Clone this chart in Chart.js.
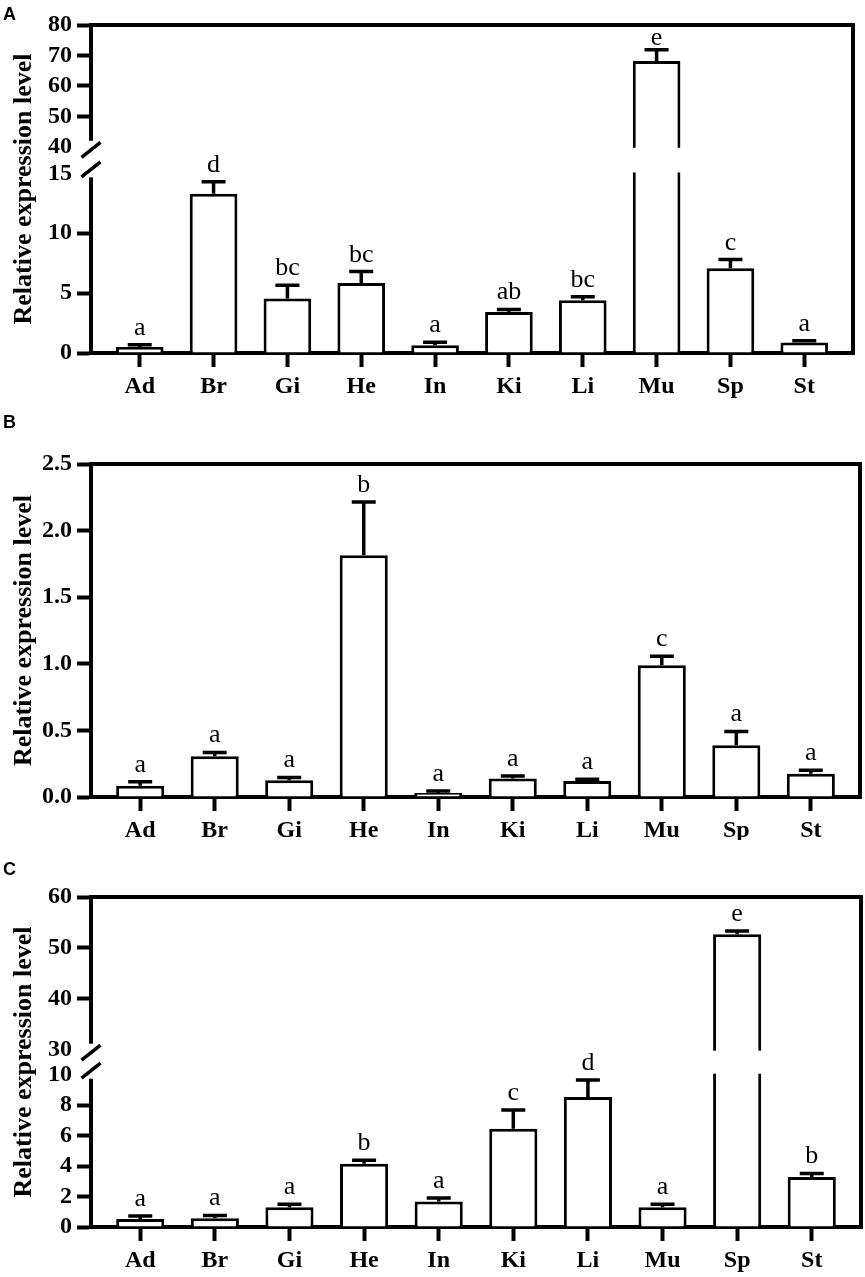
<!DOCTYPE html>
<html lang="en">
<head>
  <meta charset="UTF-8" />
  <title>Relative expression level by tissue</title>
  <script src="https://cdn.jsdelivr.net/npm/chart.js@4.4.1/dist/chart.umd.min.js"></script>
  <style>
    body {
      margin: 0;
      background: #fff;
    }

    .page {
      position: relative;
      width: 865px;
      height: 1277px;
      overflow: hidden;
      background: #fff;
    }

    .panel {
      position: absolute;
      left: 0;
    }

    .tag {
      position: absolute;
      font-family: 'Liberation Sans', Arial, sans-serif;
      font-weight: 700;
      font-size: 18px;
      line-height: 1;
      color: #000;
    }
  </style>
</head>
<body>
  <div class="page">
    <canvas id="chartA" class="panel" style="top:0" width="865" height="400"></canvas>
    <canvas id="chartB" class="panel" style="top:400px" width="865" height="440"></canvas>
    <canvas id="chartC" class="panel" style="top:840px" width="865" height="437"></canvas>
    <div class="tag" style="left:3px;top:5px">A</div>
    <div class="tag" style="left:3px;top:413px">B</div>
    <div class="tag" style="left:3px;top:860px">C</div>
  </div>

  <script>
    const tissues = ['Ad', 'Br', 'Gi', 'He', 'In', 'Ki', 'Li', 'Mu', 'Sp', 'St'];

    // Panel A
    const meanA = [0.5, 13.3, 4.55, 5.85, 0.65, 3.42, 4.4, 68.2, 7.08, 0.87];
    const errA  = [0.18, 1.0, 1.1, 0.95, 0.25, 0.22, 0.3, 3.7, 0.72, 0.15];
    const sigA  = ['a', 'd', 'bc', 'bc', 'a', 'ab', 'bc', 'e', 'c', 'a'];
    const ticksA = [0, 5, 10, 15, 40, 50, 60, 70, 80];

    // Panel B
    const meanB = [0.085, 0.305, 0.125, 1.815, 0.03, 0.138, 0.12, 0.99, 0.388, 0.175];
    const errB  = [0.03, 0.03, 0.022, 0.4, 0.015, 0.02, 0.014, 0.066, 0.104, 0.025];
    const sigB  = ['a', 'a', 'a', 'b', 'a', 'a', 'a', 'c', 'a', 'a'];
    const ticksB = [0, 0.5, 1.0, 1.5, 2.0, 2.5];

    // Panel C
    const meanC = [0.53, 0.58, 1.29, 4.16, 1.68, 6.45, 8.53, 1.29, 52.7, 3.29];
    const errC  = [0.2, 0.18, 0.2, 0.23, 0.22, 1.23, 1.13, 0.2, 0.6, 0.23];
    const sigC  = ['a', 'a', 'a', 'b', 'a', 'c', 'd', 'a', 'e', 'b'];
    const ticksC = [0, 2, 4, 6, 8, 10, 30, 40, 50, 60];

    const serif = "'Liberation Serif', 'Times New Roman', serif";
    const tickFont = { family: serif, size: 24, weight: 'bold' };
    const titleFont = { family: serif, size: 26, weight: 'bold' };
    const AXIS_W = 4;

    // broken y axis settings, looked up by canvas id
    const breaks = {
      chartA: { ticks: ticksA, lowMax: 15, highMin: 40, max: 80, fLow: 0.5475, fGap: 0.0812 },
      chartC: { ticks: ticksC, lowMax: 10, highMin: 30, max: 60, fLow: 0.4615, fGap: 0.0758 }
    };

    class BrokenScale extends Chart.LinearScale {
      static id = 'broken';
      static defaults = Chart.LinearScale.defaults;

      buildTicks() {
        return breaks[this.chart.canvas.id].ticks.map(v => ({ value: v }));
      }

      getPixelForValue(v) {
        const b = breaks[this.chart.canvas.id];
        let d;
        if (v <= b.lowMax) d = v / b.lowMax * b.fLow;
        else if (v >= b.highMin) d = b.fLow + b.fGap + (v - b.highMin) / (b.max - b.highMin) * (1 - b.fLow - b.fGap);
        else d = b.fLow + (v - b.lowMax) / (b.highMin - b.lowMax) * b.fGap;
        return this.getPixelForDecimal(d);
      }

      getValueForPixel(p) {
        const b = breaks[this.chart.canvas.id];
        const d = this.getDecimalForPixel(p);
        if (d <= b.fLow) return d / b.fLow * b.lowMax;
        if (d >= b.fLow + b.fGap) return b.highMin + (d - b.fLow - b.fGap) / (1 - b.fLow - b.fGap) * (b.max - b.highMin);
        return b.lowMax + (d - b.fLow) / b.fGap * (b.highMin - b.lowMax);
      }
    }
    Chart.register(BrokenScale);

    // axis break, error bars, letters and the frame
    function makeDecor(mean, err, sig, brk) {
      return {
        id: 'decor',
        afterDatasetsDraw(chart) {
          const { ctx, chartArea: a } = chart;
          const y = chart.scales.y;
          const meta = chart.getDatasetMeta(0);
          ctx.save();
          ctx.strokeStyle = '#000';
          ctx.fillStyle = '#000';

          if (brk) {
            const yHi = y.getPixelForValue(brk.highMin);
            const yLo = y.getPixelForValue(brk.lowMax);
            ctx.fillStyle = '#fff';
            ctx.fillRect(a.left + 3, yHi + 1, a.right - a.left - 6, yLo - yHi - 2);
            ctx.fillRect(a.left - 3, yHi - 6, 6, yLo - yHi + 10);
            ctx.fillStyle = '#000';
            ctx.lineWidth = 3.5;
            ctx.beginPath();
            [yHi + 3, yLo - 4].forEach(c => {
              ctx.moveTo(a.left - 9.5, c + 7.5);
              ctx.lineTo(a.left + 9.5, c - 7.5);
            });
            ctx.stroke();
          }

          ctx.lineWidth = 3.5;
          ctx.font = '26px ' + serif;
          ctx.textAlign = 'center';
          ctx.textBaseline = 'alphabetic';
          meta.data.forEach((bar, i) => {
            const yBar = y.getPixelForValue(mean[i]);
            const yCap = y.getPixelForValue(mean[i] + err[i]);
            ctx.beginPath();
            ctx.moveTo(bar.x, yBar);
            ctx.lineTo(bar.x, yCap);
            ctx.moveTo(bar.x - 12, yCap);
            ctx.lineTo(bar.x + 12, yCap);
            ctx.stroke();
            // keep the letter inside the frame
            const ty = Math.max(yCap - 10, a.top + 20);
            ctx.fillText(sig[i], bar.x, ty);
          });
          ctx.restore();
        },
        afterDraw(chart) {
          const { ctx, chartArea: a } = chart;
          ctx.save();
          ctx.strokeStyle = '#000';
          ctx.lineWidth = AXIS_W;
          ctx.lineCap = 'square';
          ctx.beginPath();
          ctx.moveTo(a.left, a.top);
          ctx.lineTo(a.right, a.top);
          ctx.lineTo(a.right, a.bottom);
          ctx.stroke();
          ctx.restore();
        }
      };
    }

    function buildPanel(id, mean, err, sig, yOpts, box) {
      const brk = breaks[id] || null;
      const hidden = brk ? [brk.lowMax, brk.highMin] : [];
      const canvas = document.getElementById(id);

      return new Chart(canvas.getContext('2d'), {
        type: 'bar',
        data: {
          datasets: [{
            data: tissues.map((t, i) => ({ x: i, y: mean[i] })),
            backgroundColor: '#fff',
            borderColor: '#000',
            borderWidth: 3,
            barPercentage: 0.645,
            categoryPercentage: 1
          }]
        },
        options: {
          responsive: false,
          animation: false,
          events: [],
          layout: { padding: { top: box.top, right: box.right, left: 0, bottom: 0 } },
          plugins: { legend: { display: false }, tooltip: { enabled: false } },
          scales: {
            x: {
              type: 'linear',
              offset: false,
              min: -0.66,
              max: tissues.length - 1 + 0.66,
              afterBuildTicks: s => { s.ticks = tissues.map((t, i) => ({ value: i })); },
              afterFit: s => { s.height = canvas.height - box.bottom; },
              ticks: {
                autoSkip: false,
                maxRotation: 0,
                padding: 5,
                color: '#000',
                font: tickFont,
                callback: v => tissues[v]
              },
              grid: { display: true, offset: false, drawOnChartArea: false, tickLength: 14, tickWidth: AXIS_W, tickColor: '#000' },
              border: { display: true, width: AXIS_W, color: '#000' }
            },
            y: Object.assign({
              min: 0,
              afterFit: s => { s.width = 91; },
              ticks: { autoSkip: false, padding: 5, color: '#000', font: tickFont },
              grid: {
                display: true,
                drawOnChartArea: false,
                tickLength: 14,
                tickWidth: AXIS_W,
                tickColor: c => (c.tick && hidden.includes(c.tick.value)) ? 'rgba(0,0,0,0)' : '#000'
              },
              border: { display: true, width: AXIS_W, color: '#000' },
              title: {
                display: true,
                text: 'Relative expression level',
                color: '#000',
                font: titleFont,
                padding: { top: 9, bottom: 0 }
              }
            }, yOpts)
          }
        },
        plugins: [makeDecor(mean, err, sig, brk)]
      });
    }

    buildPanel('chartA', meanA, errA, sigA,
      { type: 'broken', max: 80 },
      { top: 25, right: 12, bottom: 353 });

    buildPanel('chartB', meanB, errB, sigB,
      {
        type: 'linear',
        max: 2.5,
        afterBuildTicks: s => { s.ticks = ticksB.map(v => ({ value: v })); },
        ticks: { autoSkip: false, padding: 5, color: '#000', font: tickFont, callback: v => v.toFixed(1) }
      },
      { top: 64, right: 5, bottom: 397 });

    buildPanel('chartC', meanC, errC, sigC,
      { type: 'broken', max: 60 },
      { top: 57, right: 4, bottom: 387 });
  </script>
</body>
</html>
